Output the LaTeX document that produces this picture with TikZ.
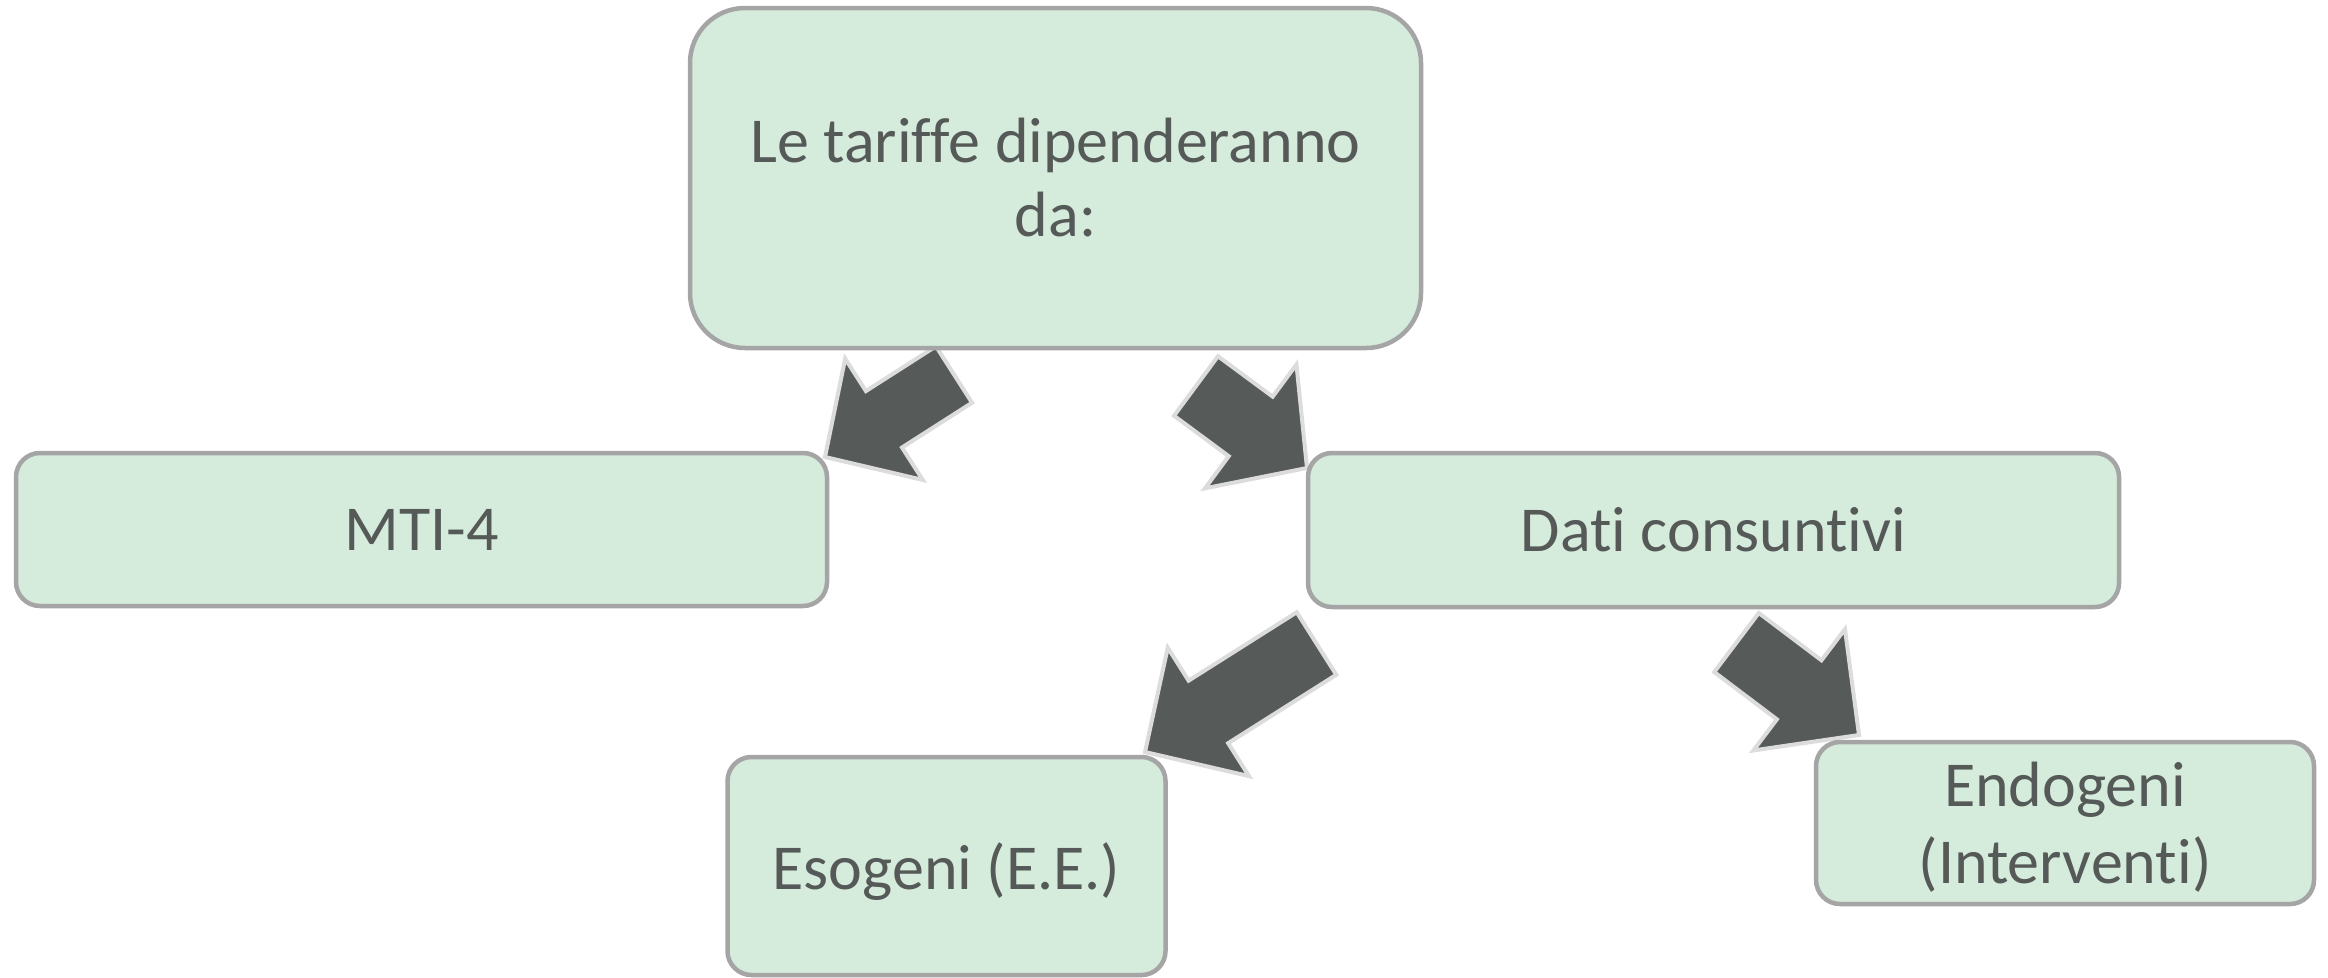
\documentclass[tikz,border=0pt]{standalone}
\usepackage{fontspec}
\setmainfont{Carlito}[Ligatures=NoCommon]
\usetikzlibrary{calc,backgrounds}
\definecolor{boxfill}{HTML}{D5EBDB}
\definecolor{boxline}{HTML}{A5A5A5}
\definecolor{txt}{HTML}{555A58}
\definecolor{arrfill}{HTML}{565B59}
\definecolor{arrline}{HTML}{DCDCDC}
\tikzset{
  box/.style={draw=boxline, line width=4.5pt, fill=boxfill, text=txt, align=center, inner sep=0pt, font=\fontsize{64}{74}\selectfont},
  bigbox/.style={box, rounded corners=55pt},
  smallbox/.style={box, rounded corners=24pt},
  blockarrow/.style={fill=arrfill, draw=arrline, line width=4pt, line join=miter},
}
% tail, tip, shaft half width, head half width, head length
\newcommand\blockarr[5]{%
  \coordinate (#2-b) at ($(#2)!#5pt!(#1)$);
  \draw[blockarrow] ($(#1)!#3pt!90:(#2)$) -- ($(#2-b)!#3pt!90:(#2)$) -- ($(#2-b)!#4pt!90:(#2)$) -- (#2) -- ($(#2-b)!#4pt!-90:(#2)$) -- ($(#2-b)!#3pt!-90:(#2)$) -- ($(#1)!#3pt!-90:(#2)$) -- cycle;
}
\begin{document}
\begin{tikzpicture}[x=1pt,y=-1pt]
\useasboundingbox (0,0) rectangle (2328,977);
\node[bigbox, minimum width=731pt, minimum height=340pt] (top) at (1055.5,178) {Le tariffe dipenderanno\\da:};
\node[smallbox, minimum width=811pt, minimum height=153pt] (mti) at (421.5,529.5) {MTI-4};
\node[smallbox, minimum width=811pt, minimum height=154pt] (dati) at (1713.5,530) {Dati consuntivi};
\node[smallbox, minimum width=438pt, minimum height=218pt, text depth=0pt] (eso) at (946.5,866) {};
\node[text=txt, font=\fontsize{64}{74}\selectfont, inner sep=0pt] (esotext) at (946.5,872) {Esogeni (E.E.)};
\node[smallbox, minimum width=498pt, minimum height=162pt] (endo) at (2065,823) {};
\node[text=txt, align=center, inner sep=0pt, font=\fontsize{64}{77}\selectfont] (endotext) at (2065,827) {Endogeni\\(Interventi)};
\begin{scope}[on background layer]
\coordinate (a1t) at (954,374.5);
\coordinate (a1h) at (825,457);
\coordinate (a2t) at (1196,386);
\coordinate (a2h) at (1307,468);
\coordinate (a3t) at (1316.5,643.5);
\coordinate (a3h) at (1145,752);
\coordinate (a4t) at (1736.5,642.5);
\coordinate (a4h) at (1859,735);
\blockarr{a1t}{a1h}{33.5}{72}{70}
\blockarr{a2t}{a2h}{37}{77}{70}
\blockarr{a3t}{a3h}{37}{76}{75}
\blockarr{a4t}{a4h}{37}{76}{75}
\end{scope}
\end{tikzpicture}
\end{document}
